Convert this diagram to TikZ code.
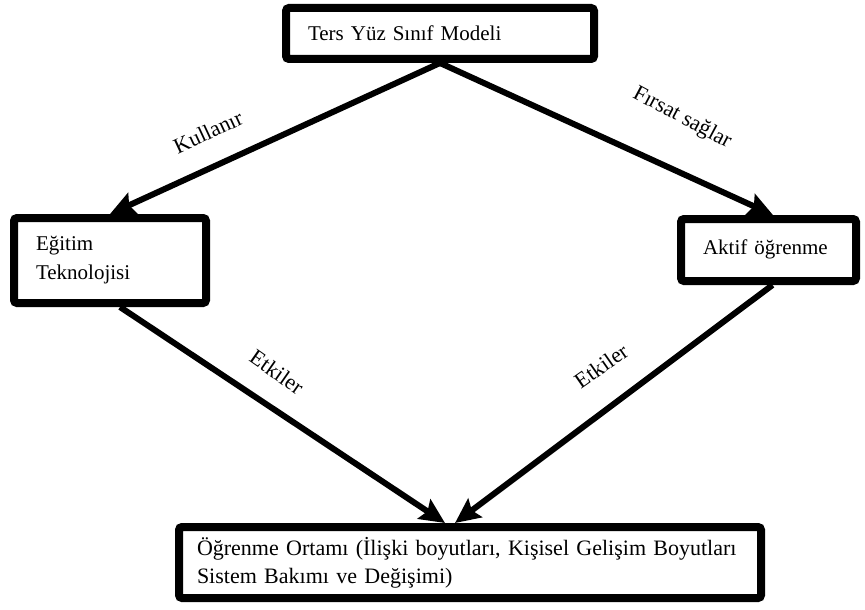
\documentclass[tikz,border=0pt]{standalone}
\usepackage{fontspec}
\setmainfont{Liberation Serif}
\usetikzlibrary{arrows.meta}
\tikzset{
  boxnode/.style={draw=black, line width=8pt, rounded corners=3pt, align=left,
    font=\fontsize{21}{29}\selectfont, inner ysep=0pt},
  conn/.style={line width=6pt, -{Stealth[length=25pt,width=23pt,inset=4pt]}},
  lbl/.style={font=\fontsize{22}{25}\selectfont, inner sep=0pt}
}
\begin{document}
\begin{tikzpicture}[x=1pt,y=-1pt]
\useasboundingbox (0,0) rectangle (865,610);
\node[boxnode, minimum width=308pt, minimum height=51pt, inner xsep=22pt, text width=264pt]
  (top) at (440,33.5) {Ters Yüz Sınıf Modeli};
\node[boxnode, minimum width=192pt, minimum height=85pt, inner xsep=22pt, text width=148pt]
  (left) at (110,260.5) {Eğitim\\Teknolojisi};
\node[boxnode, minimum width=175pt, minimum height=62pt, inner xsep=22pt, text width=131pt]
  (right) at (768.5,250) {\raisebox{6pt}{Aktif öğrenme}};
\node[boxnode, minimum width=582pt, minimum height=71pt, inner xsep=18pt, text width=546pt,
  font=\fontsize{22}{28}\selectfont]
  (bot) at (470,562.5) {Öğrenme Ortamı (İlişki boyutları, Kişisel Gelişim Boyutları\\Sistem Bakımı ve Değişimi)};
\draw[conn] (top.south) -- (left.north);
\draw[conn] (top.south) -- ([xshift=4.5pt]right.north);
\draw[conn] ([xshift=10pt]left.south) -- ([xshift=-25pt]bot.north);
\draw[conn] ([xshift=4pt]right.south) -- ([xshift=-15pt]bot.north);
\node[lbl, rotate=25] (l1) at (208,132) {Kullanır};
\node[lbl, rotate=-28] (l2) at (682,118) {Fırsat sağlar};
\node[lbl, rotate=-35] (l3) at (277,372) {Etkiler};
\node[lbl, rotate=35] (l4) at (601,366) {Etkiler};
\end{tikzpicture}
\end{document}
